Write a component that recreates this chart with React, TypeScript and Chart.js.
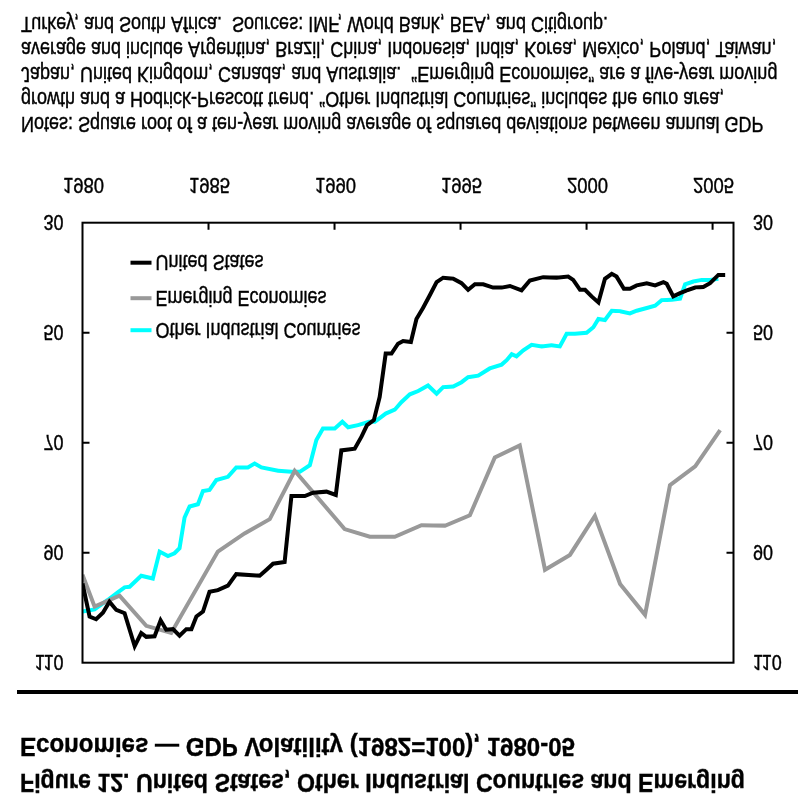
import React, { useEffect, useRef } from 'react';
import { Chart, registerables } from 'chart.js';

Chart.register(...registerables);

// ---------- data ----------
const usYears = [1980.0, 1980.28, 1980.54, 1980.81, 1981.07, 1981.34, 1981.67, 1982.07, 1982.33, 1982.53, 1982.86, 1983.10, 1983.32, 1983.59, 1983.85, 1984.12, 1984.32, 1984.52, 1984.78, 1985.04, 1985.37, 1985.77, 1986.10, 1987.03, 1987.30, 1987.56, 1988.02, 1988.29, 1988.82, 1989.15, 1989.68, 1990.05, 1990.27, 1990.80, 1991.07, 1991.29, 1991.56, 1991.79, 1992.03, 1992.26, 1992.52, 1992.72, 1993.03, 1993.25, 1993.51, 1993.78, 1994.05, 1994.31, 1994.71, 1995.04, 1995.30, 1995.57, 1995.90, 1996.29, 1996.63, 1996.96, 1997.42, 1997.75, 1998.28, 1998.81, 1999.27, 1999.47, 1999.74, 1999.94, 2000.20, 2000.47, 2000.73, 2001.00, 2001.19, 2001.48, 2001.72, 2001.99, 2002.39, 2002.72, 2003.05, 2003.18, 2003.44, 2003.71, 2003.98, 2004.31, 2004.63, 2004.90, 2005.23, 2005.50];
const usValues = [95.6, 101.6, 102.1, 100.9, 98.9, 100.4, 101.0, 107.0, 104.6, 105.3, 105.2, 102.3, 104.0, 103.9, 105.1, 103.9, 103.9, 101.6, 100.7, 97.1, 96.8, 96.0, 93.9, 94.2, 93.1, 92.0, 91.7, 79.7, 79.7, 79.1, 78.9, 79.5, 71.4, 71.1, 68.9, 66.8, 65.9, 61.7, 53.8, 53.8, 52.0, 51.5, 51.7, 47.5, 45.5, 43.2, 40.8, 40.0, 40.2, 41.0, 42.2, 41.2, 41.2, 41.8, 41.8, 41.5, 42.3, 40.5, 39.9, 40.0, 39.8, 40.4, 42.2, 42.2, 43.4, 44.5, 40.2, 39.3, 39.8, 42.0, 42.0, 41.4, 41.0, 41.4, 40.8, 41.1, 43.4, 42.8, 42.3, 41.8, 41.7, 41.0, 39.5, 39.5];

const oicYears = [1980.0, 1980.48, 1981.00, 1981.40, 1981.67, 1981.87, 1982.33, 1982.79, 1983.06, 1983.39, 1983.65, 1983.85, 1984.05, 1984.25, 1984.58, 1984.78, 1985.04, 1985.31, 1985.77, 1986.10, 1986.56, 1986.83, 1987.10, 1987.76, 1988.29, 1988.62, 1989.02, 1989.28, 1989.54, 1990.01, 1990.31, 1990.54, 1990.93, 1991.37, 1991.60, 1992.03, 1992.39, 1992.66, 1992.99, 1993.32, 1993.71, 1994.05, 1994.31, 1994.71, 1995.04, 1995.30, 1995.70, 1996.16, 1996.63, 1996.83, 1997.03, 1997.22, 1997.49, 1997.82, 1998.22, 1998.61, 1998.94, 1999.21, 1999.54, 2000.00, 2000.27, 2000.47, 2000.73, 2001.00, 2001.33, 2001.72, 2001.99, 2002.39, 2002.72, 2002.98, 2003.38, 2003.71, 2003.91, 2004.24, 2004.57, 2004.90, 2005.23];
const oicValues = [100.7, 100.3, 98.6, 97.2, 96.3, 96.2, 94.2, 94.7, 89.8, 90.6, 90.1, 89.2, 83.6, 81.6, 81.2, 78.8, 78.6, 76.8, 76.2, 74.5, 74.5, 73.8, 74.5, 75.1, 75.3, 75.3, 74.1, 69.5, 67.4, 67.4, 66.2, 67.2, 66.8, 66.2, 66.2, 64.7, 64.0, 62.6, 61.2, 60.6, 59.6, 61.1, 59.9, 59.8, 59.0, 58.1, 57.8, 56.5, 55.8, 55.0, 53.9, 54.3, 53.2, 52.2, 52.5, 52.3, 52.5, 50.2, 50.2, 50.0, 49.0, 47.5, 47.7, 46.0, 46.1, 46.5, 46.0, 45.5, 45.1, 44.1, 44.0, 43.8, 41.2, 40.7, 40.4, 40.4, 40.2];

const emYears = [1980.0, 1980.48, 1981.47, 1982.53, 1983.52, 1985.37, 1986.43, 1987.43, 1988.42, 1990.40, 1991.40, 1992.39, 1993.45, 1994.38, 1995.37, 1996.36, 1997.35, 1998.35, 1999.34, 2000.33, 2001.33, 2002.32, 2003.31, 2004.31, 2005.30];
const emValues = [94.0, 99.8, 97.8, 103.3, 104.6, 89.8, 86.5, 83.9, 75.1, 85.7, 87.1, 87.1, 85.0, 85.1, 83.2, 72.7, 70.5, 93.1, 90.4, 83.3, 95.7, 101.3, 77.7, 74.3, 67.7];

const yTicks = [30, 50, 70, 90, 110];
const xTickYears = [1980, 1985, 1990, 1995, 2000, 2005];
const seriesNames = ['United States', 'Emerging Economies', 'Other Industrial Countries'];
const seriesColors = ['#000000', '#999999', '#00FFFF'];

const titleLines = [
  'Figure 12. United States, Other Industrial Countries and Emerging',
  'Economies \u2014 GDP Volatility (1982=100), 1980-05',
];
const noteLines = [
  'Notes: Square root of a ten-year moving average of squared deviations between annual GDP',
  'growth and a Hodrick-Prescott trend. \u201COther Industrial Countries\u201D includes the euro area,',
  'Japan, United Kingdom, Canada, and Australia.  \u201CEmerging Economies\u201D are a five-year moving',
  'average and include Argentina, Brazil, China, Indonesia, India, Korea, Mexico, Poland, Taiwan,',
  'Turkey, and South Africa.  Sources: IMF, World Bank, BEA, and Citigroup.',
];

// ---------- drawing helpers ----------
const FONT = '"Liberation Sans", Arial, Helvetica, sans-serif';

function drawText(
  ctx: CanvasRenderingContext2D,
  s: string,
  x: number,
  yCenter: number,
  size: number,
  weight: string,
  stretch: number,
  align: CanvasTextAlign,
  fitWidth?: number,
) {
  ctx.save();
  ctx.font = `${weight} ${size}px ${FONT}`;
  ctx.textAlign = align;
  ctx.textBaseline = 'alphabetic';
  ctx.fillStyle = '#000';
  ctx.strokeStyle = '#000';
  ctx.lineWidth = 0.35;
  let sx = 1;
  if (fitWidth) {
    const w = ctx.measureText(s).width;
    if (w > 0) sx = fitWidth / w;
  }
  ctx.translate(x, yCenter + 0.358 * size * stretch);
  ctx.scale(sx, stretch);
  ctx.fillText(s, 0, 0);
  ctx.strokeText(s, 0, 0);
  ctx.restore();
}

const decor = {
  id: 'decor',
  afterDraw(chart: any) {
    const ctx: CanvasRenderingContext2D = chart.ctx;
    const { left, right, top, bottom } = chart.chartArea;
    const xs = chart.scales.x;
    const ys = chart.scales.y;
    ctx.save();

    // frame
    ctx.strokeStyle = '#000';
    ctx.lineWidth = 2;
    ctx.strokeRect(left, top, right - left, bottom - top);

    // inward tick marks
    ctx.beginPath();
    for (const yr of xTickYears) {
      const px = xs.getPixelForValue(yr);
      if (px > left + 2 && px < right - 2) {
        ctx.moveTo(px, bottom);
        ctx.lineTo(px, bottom - 7);
      }
    }
    for (const v of yTicks) {
      const py = ys.getPixelForValue(v);
      if (py > top + 2 && py < bottom - 2) {
        ctx.moveTo(left, py);
        ctx.lineTo(left + 7, py);
        ctx.moveTo(right, py);
        ctx.lineTo(right - 7, py);
      }
    }
    ctx.stroke();

    // tick labels
    for (const v of yTicks) {
      const py = ys.getPixelForValue(v);
      drawText(ctx, String(v), left - 19, py, 18, 'normal', 1.18, 'right');
      drawText(ctx, String(v), right + 19.5, py, 18, 'normal', 1.18, 'left');
    }
    for (const yr of xTickYears) {
      const px = xs.getPixelForValue(yr);
      drawText(ctx, String(yr), px + 1, bottom + 37, 18.5, 'normal', 1.18, 'center');
    }

    // legend (inside plot, lower left)
    const legendY = [bottom - 40, bottom - 75.5, bottom - 107.5];
    seriesNames.forEach((name, i) => {
      ctx.beginPath();
      ctx.strokeStyle = seriesColors[i];
      ctx.lineWidth = 4;
      ctx.moveTo(left + 48, legendY[i]);
      ctx.lineTo(left + 69, legendY[i]);
      ctx.stroke();
      drawText(ctx, name, left + 73, legendY[i], 18, 'normal', 1.18, 'left');
    });

    // title
    drawText(ctx, titleLines[0], 20, 20, 23.3, 'bold', 1.12, 'left', 725);
    drawText(ctx, titleLines[1], 20, 55.5, 23.3, 'bold', 1.12, 'left', 555);

    // rule
    ctx.fillStyle = '#000';
    ctx.fillRect(17, 109, 781, 4);

    // notes
    noteLines.forEach((line, i) => {
      drawText(ctx, line, 21, 678 + i * 25, 18, 'normal', 1.2, 'left');
    });

    ctx.restore();
  },
};

export default function App() {
  const ref = useRef<HTMLCanvasElement | null>(null);

  useEffect(() => {
    const canvas = ref.current;
    if (!canvas) return;
    const mk = (xsArr: number[], vals: number[]) => xsArr.map((x, i) => ({ x, y: vals[i] }));
    const chart = new Chart(canvas, {
      type: 'line',
      data: {
        datasets: [
          { label: seriesNames[0], data: mk(usYears, usValues), borderColor: seriesColors[0], borderWidth: 4, pointRadius: 0, tension: 0 },
          { label: seriesNames[1], data: mk(emYears, emValues), borderColor: seriesColors[1], borderWidth: 4, pointRadius: 0, tension: 0 },
          { label: seriesNames[2], data: mk(oicYears, oicValues), borderColor: seriesColors[2], borderWidth: 4, pointRadius: 0, tension: 0 },
        ],
      },
      options: {
        responsive: false,
        animation: false,
        devicePixelRatio: 1,
        events: [],
        layout: { padding: { left: 82.5, top: 140.3, right: 74.5, bottom: 222.7 } },
        scales: {
          x: { type: 'linear', min: 1980, max: 2005.83, display: false },
          y: { type: 'linear', min: 30, max: 110, display: false },
        },
        plugins: {
          legend: { display: false },
          title: { display: false },
          tooltip: { enabled: false },
        },
      },
      plugins: [decor],
    } as any);
    return () => chart.destroy();
  }, []);

  return (
    <div style={{ position: 'absolute', left: 0, top: 0, width: 808, height: 803, background: '#fff', overflow: 'hidden' }}>
      <canvas ref={ref} width={808} height={803} style={{ display: 'block', transform: 'scaleY(-1)' }} />
    </div>
  );
}
